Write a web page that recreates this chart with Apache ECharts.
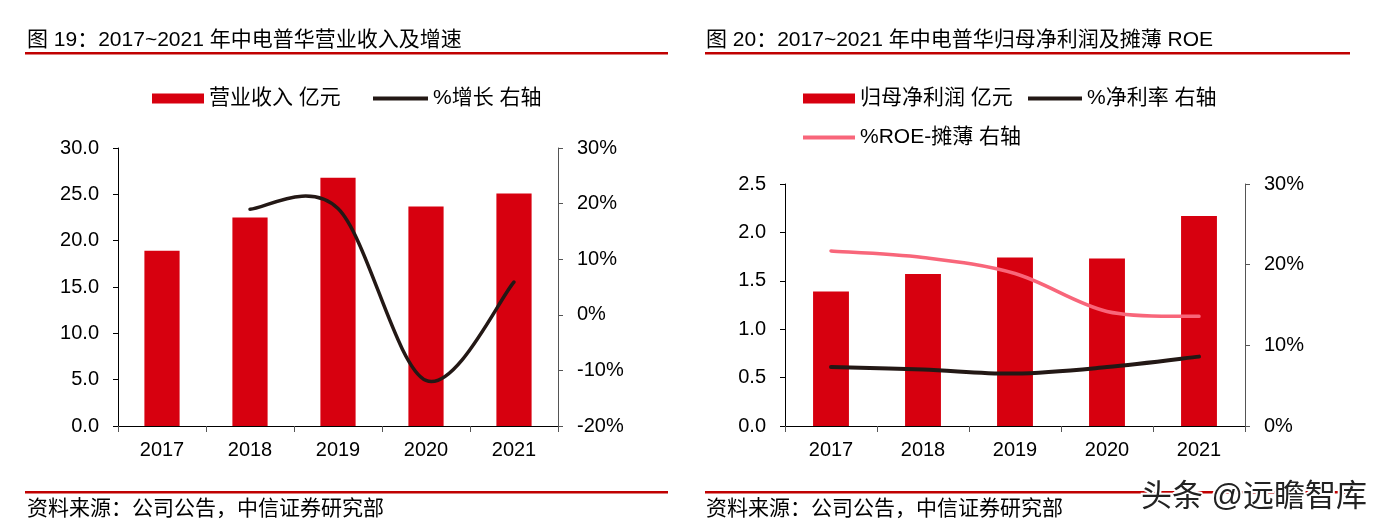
<!DOCTYPE html>
<html><head><meta charset="utf-8">
<script src="https://cdn.jsdelivr.net/npm/echarts@6/dist/echarts.min.js"></script>
<style>html,body{margin:0;padding:0;background:#fff}#c{width:1384px;height:531px}</style>
</head><body><div id="c"></div>
<script>
// ---- data ----
const years = ['2017', '2018', '2019', '2020', '2021'];
const revenue = [18.9, 22.5, 26.8, 23.7, 25.1];          // 营业收入 亿元
const revenueGrowth = [null, 19.0, 19.1, -11.8, 5.9];     // %增长
const netProfit = [1.39, 1.57, 1.74, 1.73, 2.17];         // 归母净利润 亿元
const netMargin = [7.3, 7.0, 6.5, 7.3, 8.6];              // %净利率
const roeDiluted = [21.7, 20.9, 18.9, 14.2, 13.6];        // %ROE-摊薄

const FONT = '"Liberation Sans", Arial, "Noto Sans CJK SC", sans-serif';
const RED = '#D7000F', DARK = '#231815', PINK = '#F8667A', LINE_RED = '#C00000';

const chart = echarts.init(document.getElementById('c'), null, {renderer: 'canvas'});

function xAx(grid) {
  return {
    type: 'category', gridIndex: grid, data: years,
    axisLine: {onZero: false, lineStyle: {color: '#000', width: 1}},
    axisTick: {show: true, length: 6, lineStyle: {color: '#555'}},
    axisLabel: {fontSize: 20, color: '#000', fontFamily: FONT, margin: 14}
  };
}
function yAx(grid, pos, min, max, interval, fmt, lineColor) {
  return {
    type: 'value', gridIndex: grid, position: pos, min: min, max: max, interval: interval,
    axisLine: {show: true, lineStyle: {color: lineColor, width: 1}},
    axisTick: {show: true, length: 5, lineStyle: {color: lineColor}},
    splitLine: {show: false},
    axisLabel: {fontSize: 20, color: '#000', fontFamily: FONT, margin: 19, formatter: fmt}
  };
}
const legText = {fontSize: 21, fontFamily: FONT, color: '#000'};
function leg(name, left, top, w, h) {
  return {data: [name], left: left, top: top, itemWidth: w, itemHeight: h, icon: 'rect',
    padding: 0, itemGap: 0, selectedMode: false, textStyle: legText};
}

// Smoothed line (Excel-style Catmull-Rom, control offsets = neighbour difference / 6),
// positioned through the chart's own axes via api.coord.
function smoothLine(name, xi, yi, values, color, width) {
  const pairs = [];
  values.forEach((v, i) => { if (v != null) pairs.push([i, v]); });
  return {
    type: 'custom', name: name, xAxisIndex: xi, yAxisIndex: yi,
    data: pairs, encode: {x: 0, y: 1}, itemStyle: {color: color}, z: 3,
    renderItem: function (params, api) {
      if (params.dataIndex !== pairs.length - 1) return null;
      const pts = pairs.map(p => api.coord(p));
      let d = 'M' + pts[0][0] + ',' + pts[0][1];
      for (let i = 0; i < pts.length - 1; i++) {
        const p0 = pts[i - 1] || pts[i], p1 = pts[i], p2 = pts[i + 1], p3 = pts[i + 2] || pts[i + 1];
        const c1x = p1[0] + (p2[0] - p0[0]) / 6, c1y = p1[1] + (p2[1] - p0[1]) / 6;
        const c2x = p2[0] - (p3[0] - p1[0]) / 6, c2y = p2[1] - (p3[1] - p1[1]) / 6;
        d += ' C' + c1x + ',' + c1y + ' ' + c2x + ',' + c2y + ' ' + p2[0] + ',' + p2[1];
      }
      return {type: 'path', shape: {pathData: d},
        style: {stroke: color, lineWidth: width, fill: null, lineCap: 'round', lineJoin: 'round'}};
    }
  };
}

const option = {
  animation: false,
  backgroundColor: '#fff',
  grid: [
    {left: 118, top: 148, width: 440, height: 278},
    {left: 785, top: 184, width: 460, height: 242}
  ],
  xAxis: [xAx(0), xAx(1)],
  yAxis: [
    yAx(0, 'left', 0, 30, 5, v => v.toFixed(1), '#000'),
    yAx(0, 'right', -20, 30, 10, v => v + '%', '#555'),
    yAx(1, 'left', 0, 2.5, 0.5, v => v.toFixed(1), '#000'),
    yAx(1, 'right', 0, 30, 10, v => v + '%', '#555')
  ],
  legend: [
    leg('营业收入 亿元', 152, 88, 52, 10),
    leg('%增长 右轴', 373, 88, 55, 4),
    leg('归母净利润 亿元', 803, 88, 52, 10),
    leg('%净利率 右轴', 1028, 88, 54, 4),
    leg('%ROE-摊薄 右轴', 803, 127, 52, 4)
  ],
  series: [
    {type: 'bar', name: '营业收入 亿元', xAxisIndex: 0, yAxisIndex: 0, data: revenue,
      barWidth: '40%', itemStyle: {color: RED}},
    smoothLine('%增长 右轴', 0, 1, revenueGrowth, DARK, 3.5),
    {type: 'bar', name: '归母净利润 亿元', xAxisIndex: 1, yAxisIndex: 2, data: netProfit,
      barWidth: '39%', itemStyle: {color: RED}},
    smoothLine('%净利率 右轴', 1, 3, netMargin, DARK, 4),
    smoothLine('%ROE-摊薄 右轴', 1, 3, roeDiluted, PINK, 3.5)
  ],
  graphic: [
    {type: 'text', x: 27, y: 40, style: {text: '图 19：2017~2021 年中电普华营业收入及增速',
      fontSize: 21, fontFamily: FONT, fill: '#000', verticalAlign: 'middle'}},
    {type: 'text', x: 706, y: 40, style: {text: '图 20：2017~2021 年中电普华归母净利润及摊薄 ROE',
      fontSize: 21, fontFamily: FONT, fill: '#000', verticalAlign: 'middle'}},
    {type: 'rect', shape: {x: 25, y: 52, width: 643, height: 2.5}, style: {fill: LINE_RED}},
    {type: 'rect', shape: {x: 705, y: 52, width: 645, height: 2.5}, style: {fill: LINE_RED}},
    {type: 'rect', shape: {x: 25, y: 491, width: 643, height: 2.5}, style: {fill: LINE_RED}},
    {type: 'rect', shape: {x: 705, y: 491, width: 645, height: 2.5}, style: {fill: LINE_RED}},
    {type: 'text', x: 27, y: 509, style: {text: '资料来源：公司公告，中信证券研究部',
      fontSize: 21, fontFamily: FONT, fill: '#000', verticalAlign: 'middle'}},
    {type: 'text', x: 706, y: 509, style: {text: '资料来源：公司公告，中信证券研究部',
      fontSize: 21, fontFamily: FONT, fill: '#000', verticalAlign: 'middle'}},
    {type: 'text', x: 1367, y: 497, z: 100, style: {text: '头条 @远瞻智库',
      fontSize: 31, fontFamily: FONT, fill: '#222', stroke: '#fff', lineWidth: 4, strokeFirst: true,
      align: 'right', verticalAlign: 'middle'}}
  ]
};
chart.setOption(option);
</script>
</body></html>
